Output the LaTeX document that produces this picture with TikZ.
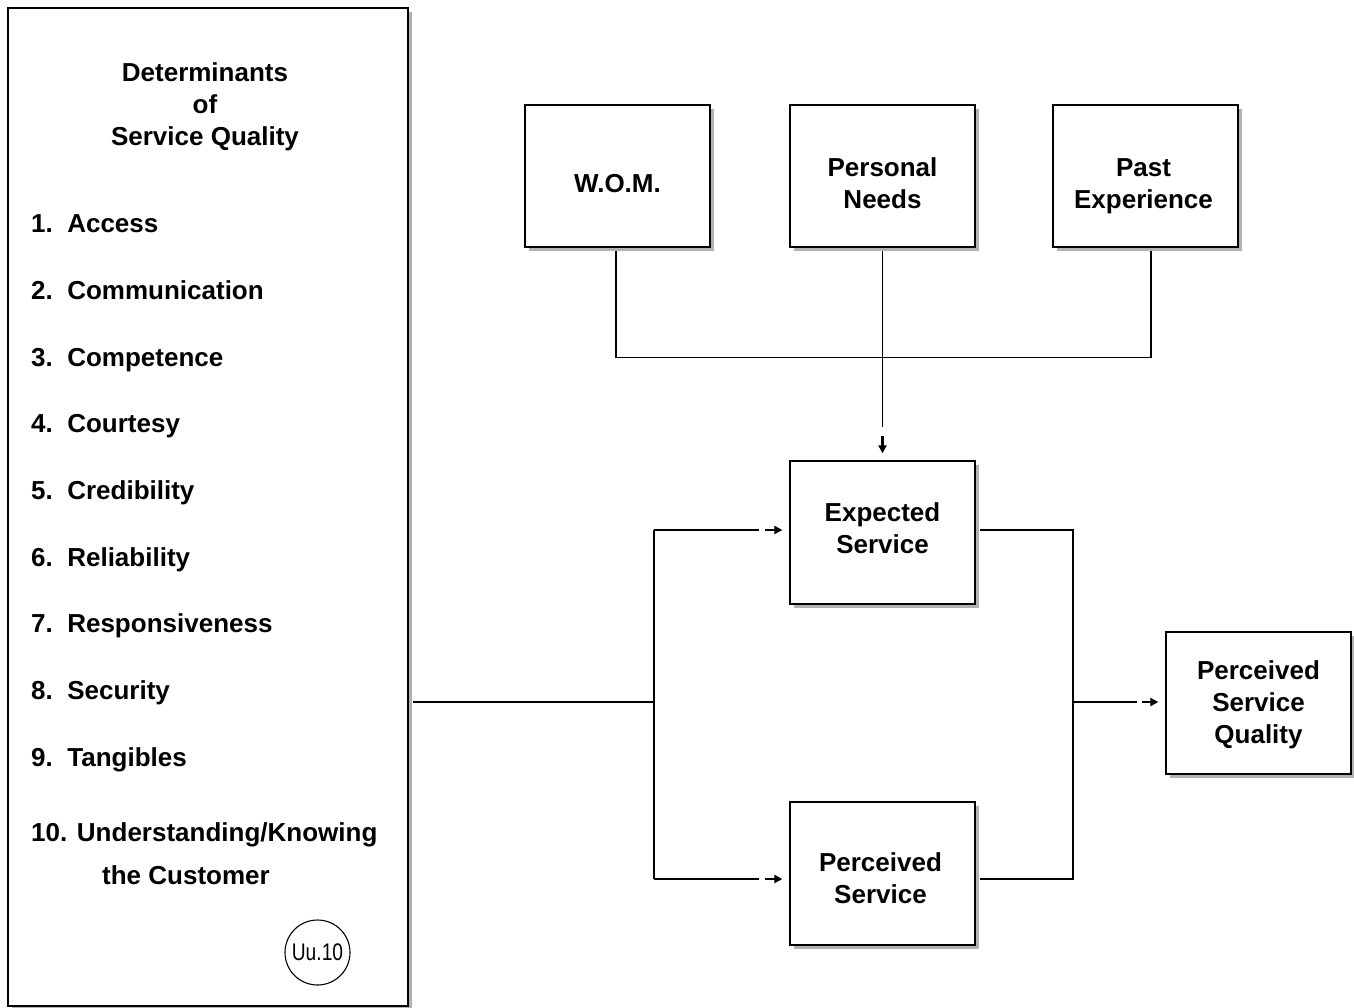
\documentclass[tikz,border=0pt]{standalone}
\usepackage{fontspec}
\setmainfont{Liberation Sans}
\usetikzlibrary{shadows,arrows.meta,calc}
\begin{document}
\begin{tikzpicture}[x=1pt,y=-1pt,
  boxnode/.style={draw, line width=1.3pt, fill=white, minimum width=185pt, minimum height=142pt,
    inner sep=0pt, align=center, font=\fontsize{26}{32}\selectfont\bfseries,
    drop shadow={shadow xshift=4pt, shadow yshift=-4pt, fill=black!30, opacity=1}},
  conn/.style={line width=1.4pt},
  stub/.style={line width=2.2pt, -{Triangle[length=8pt,width=8pt]}},
  item/.style={anchor=base west, inner sep=0pt, font=\fontsize{26}{32}\selectfont\bfseries}
]
\useasboundingbox (0,0) rectangle (1354,1007);
% left box
\node[boxnode, minimum width=400pt, minimum height=998pt] (left) at (208,507) {};
\node[anchor=base, inner sep=0pt, font=\fontsize{26}{32}\selectfont\bfseries] (t1) at (205,81) {Determinants};
\node[anchor=base, inner sep=0pt, font=\fontsize{26}{32}\selectfont\bfseries] (t2) at (205,113) {of};
\node[anchor=base, inner sep=0pt, font=\fontsize{26}{32}\selectfont\bfseries] (t3) at (205,145) {Service Quality};
\node[item] (i1) at (31,232) {1.\ \ Access};
\node[item] (i2) at (31,299) {2.\ \ Communication};
\node[item] (i3) at (31,366) {3.\ \ Competence};
\node[item] (i4) at (31,432) {4.\ \ Courtesy};
\node[item] (i5) at (31,499) {5.\ \ Credibility};
\node[item] (i6) at (31,566) {6.\ \ Reliability};
\node[item] (i7) at (31,632) {7.\ \ Responsiveness};
\node[item] (i8) at (31,699) {8.\ \ Security};
\node[item] (i9) at (31,766) {9.\ \ Tangibles};
\node[item] (i10) at (31,841) {10. Understanding/Knowing};
\node[item] (i10b) at (102,884) {the Customer};
\node[draw, circle, line width=1.1pt, minimum size=65pt, inner sep=0pt] (uu) at (317.5,952.5) {};
\node[inner sep=0pt, font=\fontsize{24}{26}\selectfont] (uut) at (uu.center) {\scalebox{0.8}[1]{Uu.10}};
% boxes
\node[boxnode] (wom) at (617.5,176) {};
\node[boxnode] (pn) at (882.5,176) {};
\node[boxnode] (past) at (1145.5,176) {};
\node[boxnode, minimum height=143pt] (exp) at (882.5,532.5) {};
\node[boxnode, minimum height=143pt] (perc) at (882.5,873.5) {};
\node[boxnode] (psq) at (1258.5,703) {};
\node[align=center, font=\fontsize{26}{32}\selectfont\bfseries] (womt) at ($(wom.center)+(0,8)$) {W.O.M.};
\node[align=center, font=\fontsize{26}{32}\selectfont\bfseries] (pnt) at ($(pn.center)+(0,7)$) {Personal\\Needs};
\node[align=center, font=\fontsize{26}{32}\selectfont\bfseries] (pastt) at ($(past.center)+(-2,10)$) {Past\\Experience};
\node[align=center, font=\fontsize{26}{32}\selectfont\bfseries] (expt) at ($(exp.center)+(0,-4)$) {Expected\\Service};
\node[align=center, font=\fontsize{26}{32}\selectfont\bfseries] (perct) at ($(perc.center)+(-2,5)$) {Perceived\\Service};
\node[align=center, font=\fontsize{26}{32}\selectfont\bfseries] (psqt) at ($(psq.center)+(0,2)$) {Perceived\\Service\\Quality};
% top connectors
\draw[conn] ($(wom.south)+(-1.5,3)$) -- ++(0,107) -| ($(past.south)+(5.5,3)$);
\draw[conn] ($(pn.south)+(0,3)$) -- ($(exp.north)+(0,-33)$);
\draw[stub] ($(exp.north)+(0,-24)$) -- ($(exp.north)+(0,-7)$);
% left junction
\coordinate (lj) at (654,702);
\coordinate (ls) at (413,702);
\coordinate (ea) at ($(exp.west)+(0,-2.5)$);
\coordinate (pa) at ($(perc.west)+(0,5.5)$);
\draw[conn] (ls) -- (lj);
\draw[conn] (lj |- ea) -- (lj |- pa);
\draw[conn] (lj |- ea) -- ($(ea)+(-30,0)$);
\draw[stub] ($(ea)+(-24,0)$) -- ($(ea)+(-7,0)$);
\draw[conn] (lj |- pa) -- ($(pa)+(-30,0)$);
\draw[stub] ($(pa)+(-24,0)$) -- ($(pa)+(-7,0)$);
% right junction
\coordinate (rj) at (1073,702);
\coordinate (eb) at ($(exp.east)+(4,-2.5)$);
\coordinate (pb) at ($(perc.east)+(4,5.5)$);
\draw[conn] (eb) -| (rj |- pb) -- (pb);
\draw[conn] (rj) -- ($(rj -| psq.west)+(-28,0)$);
\draw[stub] ($(rj -| psq.west)+(-23,0)$) -- ($(rj -| psq.west)+(-7,0)$);
\end{tikzpicture}
\end{document}
